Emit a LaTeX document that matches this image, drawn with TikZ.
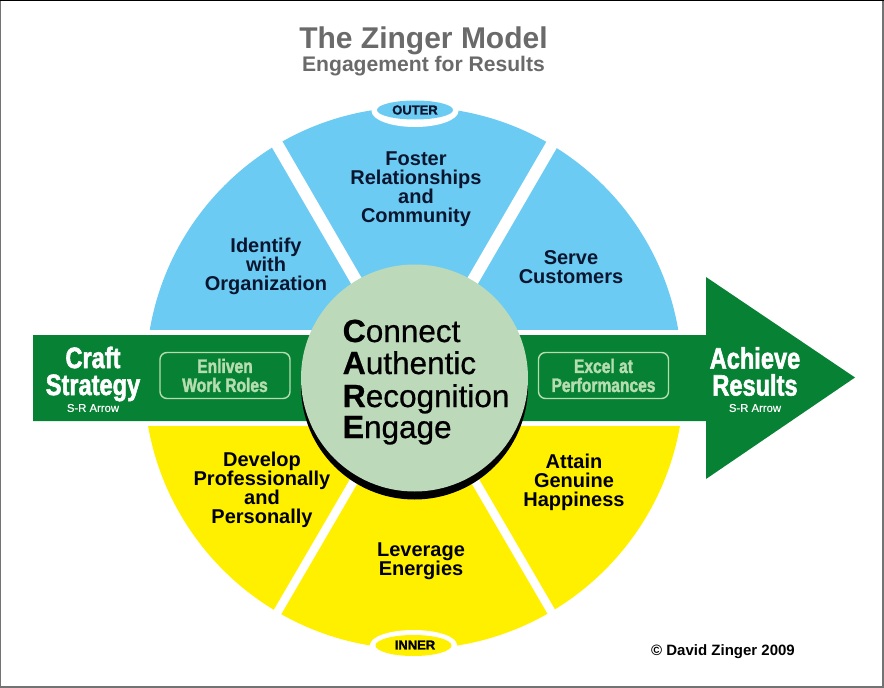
\documentclass[tikz,border=0pt]{standalone}
\usepackage{fontspec}
\setmainfont{Liberation Sans}
\newfontfamily\condfont[FakeStretch=0.8,FakeBold=1.8]{Liberation Sans Bold}
\newfontfamily\hubfont[FakeBold=0.7]{Liberation Sans}
\newfontfamily\heavyfont[FakeBold=1.2]{Liberation Sans Bold}
\newfontfamily\smallfont[FakeBold=0.4]{Liberation Sans}
\definecolor{wheelblue}{HTML}{6CCBF2}
\definecolor{wheelyellow}{HTML}{FFF000}
\definecolor{arrowgreen}{HTML}{078234}
\definecolor{hubgreen}{HTML}{BCDABA}
\definecolor{boxgreen}{HTML}{B5DDB0}
\definecolor{titlegrey}{HTML}{6A6A6A}
\definecolor{navy}{HTML}{0A1630}
\begin{document}
\begin{tikzpicture}[x=1pt,y=-1pt,
  seglabel/.style={align=center,inner sep=0pt,font=\fontsize{20}{19}\selectfont\bfseries},
  blueseg/.style={seglabel,text=navy},
  yellowseg/.style={seglabel,text=black},
  bigwhite/.style={align=center,inner sep=0pt,text=white,font=\fontsize{29.5}{27}\selectfont\condfont},
  smallwhite/.style={inner sep=0pt,text=white,font=\fontsize{11.3}{12}\selectfont\smallfont},
  rolebox/.style={draw=boxgreen,line width=1.4pt,rounded corners=7pt,minimum width=130pt,minimum height=46pt,inner sep=0pt,align=center,text=boxgreen,font=\fontsize{19.5}{19}\selectfont\condfont},
  tagtext/.style={inner sep=0pt,font=\fontsize{13}{14}\selectfont\heavyfont},
  hubline/.style={inner sep=0pt,anchor=base west,font=\fontsize{31.5}{32}\selectfont\hubfont},
  gapwhite/.style={white,line width=12pt},
  gapwhiteb/.style={white,line width=8.5pt}
]
\useasboundingbox (0,0) rectangle (884,688);
\fill[white] (0,0) rectangle (884,688);
% blue half
\begin{scope}
  \clip (100,60) rectangle (720,329.5);
  \fill[wheelblue] (414,375) circle[radius=268];
  \draw[gapwhite] (414.5,381) -- ++(-155,-267);
  \draw[gapwhite] (414.5,381) -- ++(155,-267);
\end{scope}
% yellow half
\begin{scope}
  \clip (100,426) rectangle (720,680);
  \fill[wheelyellow] (414,379) circle[radius=270];
  \draw[gapwhiteb] (414.5,377) -- ++(-160,274.5);
  \draw[gapwhiteb] (414.5,377) -- ++(160,274.5);
\end{scope}
% arrow
\fill[arrowgreen] (33,335) -- (706,335) -- (706,277) -- (855,377.5) -- (706,479) -- (706,421) -- (33,421) -- cycle;
% hub
\fill[black] (414.5,386) circle[radius=113.5];
\fill[hubgreen] (414.5,378) circle[radius=113.5];
% tags
\fill[white] (415,111) ellipse[x radius=43.5,y radius=16];
\fill[wheelblue] (415,110) ellipse[x radius=38,y radius=9.5];
\fill[white] (413.5,645) ellipse[x radius=43.5,y radius=15];
\fill[wheelyellow] (413.5,645.5) ellipse[x radius=38,y radius=10.5];
\node[tagtext,text=navy] (outer) at (415,110) {OUTER};
\node[tagtext,text=black] (inner) at (415,645) {INNER};
% title
\node[inner sep=0pt,text=titlegrey,font=\fontsize{30}{34}\selectfont\bfseries] (title) at (423.5,41) {The Zinger Model};
\node[inner sep=0pt,text=titlegrey,font=\fontsize{21.1}{24}\selectfont\bfseries] (subtitle) at (423.5,66) {Engagement for Results};
% segments
\node[blueseg] (foster) at (416,189) {Foster\\Relationships\\and\\Community};
\node[blueseg] (identify) at (266,266) {Identify\\with\\Organization};
\node[blueseg] (serve) at (571,267.5) {Serve\\Customers};
\node[yellowseg] (develop) at (262,489.5) {Develop\\Professionally\\and\\Personally};
\node[yellowseg] (attain) at (574,482) {Attain\\Genuine\\Happiness};
\node[yellowseg] (leverage) at (421,561) {Leverage\\Energies};
% arrow texts
\node[bigwhite] (craft) at (93,374) {Craft\\Strategy};
\node[smallwhite] (srleft) at (93,408) {S-R Arrow};
\node[bigwhite] (achieve) at (755,371.5) {Achieve\\Results};
\node[smallwhite] (srright) at (755,408) {S-R Arrow};
\node[rolebox] (enliven) at (225,375.5) {Enliven\\Work Roles};
\node[rolebox] (excel) at (603.5,375.5) {Excel at\\Performances};
% hub text
\node[hubline] (connect) at (342.5,342) {{\fontsize{32}{32}\selectfont\bfseries C}onnect};
\node[hubline] (authentic) at (342.5,374) {{\fontsize{32}{32}\selectfont\bfseries A}uthentic};
\node[hubline] (recognition) at (342.5,407) {{\fontsize{32}{32}\selectfont\bfseries R}ecognition};
\node[hubline] (engage) at (342.5,438) {{\fontsize{32}{32}\selectfont\bfseries E}ngage};
% copyright
\node[inner sep=0pt,font=\fontsize{15}{16}\selectfont\bfseries] (copy) at (723,652) {© David Zinger 2009};
% frame
\draw[black!55,line width=1.5pt] (0.5,0.5) rectangle (883,687);
\draw[black,line width=1.5pt] (0,0.5) -- (884,0.5);
\end{tikzpicture}
\end{document}
